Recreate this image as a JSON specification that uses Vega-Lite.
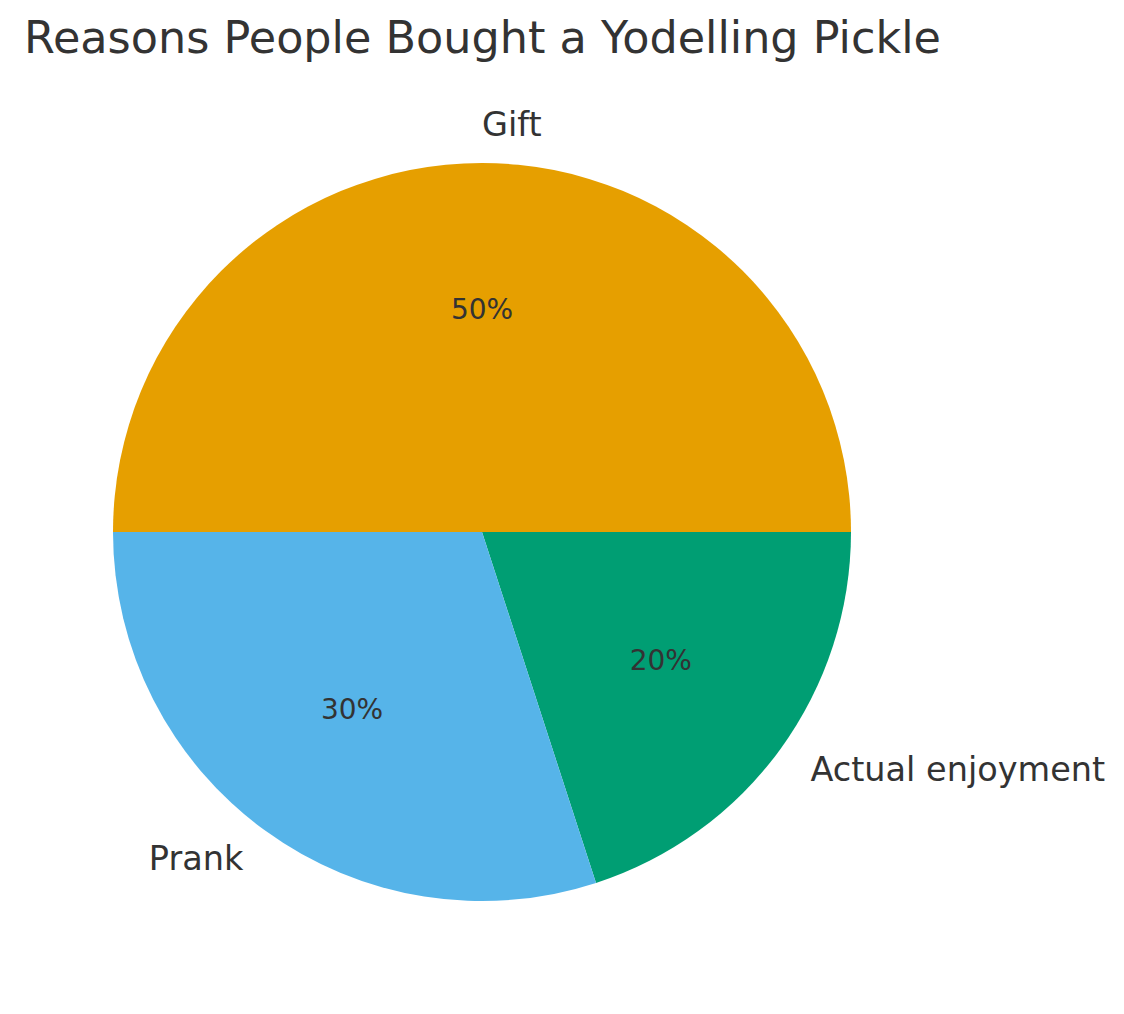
{
  "$schema": "https://vega.github.io/schema/vega-lite/v6.json",
  "description": "Reasons people bought a yodelling pickle, pie chart.",
  "width": 964,
  "height": 900,
  "padding": {"left": 0, "top": 16, "right": 0, "bottom": 0},
  "background": "white",
  "title": {
    "text": "Reasons People Bought a Yodelling Pickle",
    "anchor": "start",
    "dx": 24,
    "fontSize": 44.5,
    "font": "DejaVu Sans",
    "fontWeight": "normal",
    "color": "#333333",
    "offset": 20
  },
  "data": {
    "values": [
      {"reason": "Gift", "share": 0.5, "k": 1},
      {"reason": "Actual enjoyment", "share": 0.2, "k": 2},
      {"reason": "Prank", "share": 0.3, "k": 3}
    ]
  },
  "encoding": {
    "theta": {
      "field": "share",
      "type": "quantitative",
      "stack": true,
      "scale": {"range": [-1.5707963, 4.712389]}
    },
    "order": {"field": "k", "type": "quantitative"}
  },
  "layer": [
    {
      "mark": {"type": "arc", "outerRadius": 369},
      "encoding": {
        "color": {
          "field": "reason",
          "type": "nominal",
          "scale": {
            "domain": ["Gift", "Actual enjoyment", "Prank"],
            "range": ["#E69F00", "#009E73", "#56B4E9"]
          },
          "legend": null
        }
      }
    },
    {
      "mark": {"type": "text", "radius": 221, "fontSize": 28, "font": "DejaVu Sans", "color": "#333333", "align": "center", "baseline": "middle"},
      "encoding": {
        "text": {"field": "share", "type": "quantitative", "format": ".0%"}
      }
    },
    {
      "mark": {
        "type": "text",
        "radius": 406,
        "fontSize": 33.5,
        "font": "DejaVu Sans",
        "color": "#333333",
        "align": {"expr": "datum.reason == 'Prank' ? 'right' : 'left'"},
        "baseline": "middle"
      },
      "encoding": {
        "text": {"field": "reason", "type": "nominal"}
      }
    }
  ],
  "config": {
    "view": {"stroke": null}
  }
}
